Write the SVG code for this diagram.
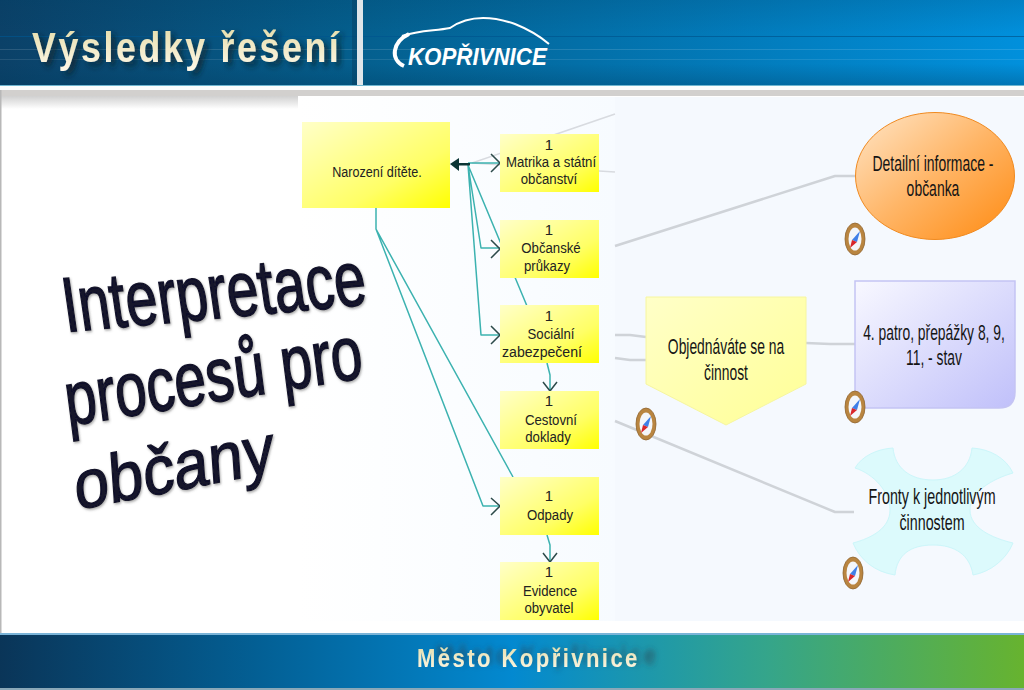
<svg xmlns="http://www.w3.org/2000/svg" width="1024" height="690" viewBox="0 0 1024 690">
<style>
text{font-family:"Liberation Sans",Arial,sans-serif}
.s{font-size:15px;fill:#222;text-anchor:middle}
.n{font-size:22px;fill:#151515;text-anchor:middle}
.box{fill:url(#yg)}
.tl{fill:none;stroke:#3cb2b0;stroke-width:1.5;stroke-linejoin:round}
.ar{fill:none;stroke:#2c4a4a;stroke-width:1.5}
.gr{fill:none;stroke:#cfd3d8;stroke-width:2.5;stroke-linejoin:round}
.gt{fill:none;stroke:#d8dbe0;stroke-width:1.6}
.head{font-weight:700;fill:url(#gold)}
.big{font-size:74px;fill:#12122a;stroke:#12122a;stroke-width:1.5}
</style>
<defs>
<linearGradient id="top" x1="0" x2="1" y1="0" y2="0"><stop offset="0" stop-color="#0b4168"/><stop offset=".35" stop-color="#045f8e"/><stop offset="1" stop-color="#0190dc"/></linearGradient>
<linearGradient id="vs" x1="0" x2="0" y1="0" y2="1"><stop offset="0" stop-color="#003a5c" stop-opacity=".18"/><stop offset=".4" stop-color="#003a5c" stop-opacity="0"/><stop offset=".75" stop-color="#003a5c" stop-opacity="0"/><stop offset="1" stop-color="#003a5c" stop-opacity=".3"/></linearGradient>
<linearGradient id="bot" x1="0" x2="1" y1="0" y2="0"><stop offset="0" stop-color="#0a3558"/><stop offset=".25" stop-color="#035f94"/><stop offset=".5" stop-color="#0389d0"/><stop offset=".75" stop-color="#35a58a"/><stop offset="1" stop-color="#67b32f"/></linearGradient>
<linearGradient id="yg" x1="0" x2="1" y1="0" y2="1"><stop offset="0" stop-color="#ffffc8"/><stop offset=".65" stop-color="#ffff66"/><stop offset="1" stop-color="#ffff00"/></linearGradient>
<linearGradient id="yp" x1="0" x2="1" y1="0" y2="1"><stop offset="0" stop-color="#ffffc8"/><stop offset="1" stop-color="#ffff96"/></linearGradient>
<linearGradient id="org" x1="0" x2="1" y1="0" y2="1"><stop offset="0" stop-color="#ffe6c8"/><stop offset=".5" stop-color="#ffb566"/><stop offset="1" stop-color="#ff8a10"/></linearGradient>
<linearGradient id="pur" x1="0" x2="1" y1="0" y2="1"><stop offset="0" stop-color="#f8f8ff"/><stop offset="1" stop-color="#c0c0fa"/></linearGradient>
<linearGradient id="gold" x1="0" x2="0" y1="0" y2="1"><stop offset="0" stop-color="#e4dca8"/><stop offset="1" stop-color="#fff8e8"/></linearGradient>
<linearGradient id="fade" x1="0" x2="1" y1="0" y2="0"><stop offset="0" stop-color="#fff"/><stop offset="1" stop-color="#f7fbff"/></linearGradient>
<linearGradient id="sh" x1="0" x2="0" y1="0" y2="1"><stop offset="0" stop-color="#d0d0d0"/><stop offset="1" stop-color="#fff"/></linearGradient>
<filter id="ds" x="-10%" y="-40%" width="125%" height="190%"><feDropShadow dx="5" dy="4" stdDeviation="3" flood-color="#15232c" flood-opacity=".75"/></filter>
<filter id="dsf" x="-5%" y="-40%" width="130%" height="180%"><feDropShadow dx="22" dy="-3" stdDeviation="3" flood-color="#2a3a4a" flood-opacity=".6"/></filter>
<filter id="ss" x="-5%" y="-10%" width="110%" height="125%"><feDropShadow dx="1" dy="1.500" stdDeviation=".8" flood-color="#555" flood-opacity=".5"/></filter>
<g id="compass"><ellipse rx="10" ry="16" fill="#b98540" stroke="#8f6430" stroke-width=".8"/><ellipse rx="6.500" ry="11.500" fill="#f4f6fa"/><path d="M5 -8L-3 1L2 3Z" fill="#3f7fe8"/><path d="M-5 9L-3 1L2 3Z" fill="#d9252a"/></g>
</defs>
<rect width="1024" height="690" fill="#fff"/>
<g id="header">
<rect width="1024" height="85" fill="url(#top)"/>
<rect width="1024" height="85" fill="url(#vs)"/>
<rect y="36" width="1024" height="1" fill="#00558f" opacity=".7"/>
<rect y="49" width="1024" height="1" fill="#fff" opacity=".13"/>
<rect y="59" width="1024" height="1" fill="#fff" opacity=".1"/>
<rect x="352" width="5" height="85" fill="#0a3552" opacity=".35"/>
<rect x="357" width="6" height="85" fill="#dfe6ea"/>
<rect y="85" width="1024" height="1" fill="#6fb6d0"/>
<rect y="86" width="1024" height="4" fill="#fbfdfd"/>
<rect y="90" width="1024" height="6" fill="#d2d0ce"/>
<rect y="96" width="298" height="13" fill="url(#sh)"/>
<text class="head" transform="translate(32,62) scale(.85,1)" font-size="42" letter-spacing="3.100" filter="url(#ds)">Výsledky řešení</text>
<path d="M402 36C420 30 435 31 450 28C470 14 495 17 515 24C530 30 542 38 549 44" fill="none" stroke="#fff" stroke-width="2"/>
<path d="M409 34C392 42 390 60 404 66" fill="none" stroke="#fff" stroke-width="4"/>
<text transform="translate(408,65) scale(.93,1)" font-style="italic" font-weight="700" font-size="24" fill="#fff">KOPŘIVNICE</text>
</g>
<g id="panel">
<rect x="298" y="97" width="317" height="524" fill="url(#fade)"/>
<rect x="615" y="97" width="409" height="524" fill="#f5f9fe"/>
<rect x="0" y="90" width="1.500" height="544" fill="#b8b8b8"/>
</g>
<g id="connectors">
<path class="gt" d="M472 163L615 114M472 163L615 172"/>
<path class="gr" d="M615 246L835 176H855M615 335L630 335L646 337M615 358L630 360H646M806 343L830 344H855M615 421L835 512H854"/>
<path class="tl" d="M376 208V229L513 477M376 229L483 506H500M468 163H500M468 165L527 306M468 165L481 248H500M468 165L481 335H500M547 363L550 375V391M547 535L550 545V562"/>
<path class="ar" d="M491 154L500 163L491 172M491 240L500 249L491 258M491 326L500 335L491 344M491 498L500 506L491 515M543 382L550 391L557 382M543 553L550 562L557 553"/>
<path d="M450 164L459 158V171Z" fill="#0b3535"/><rect x="458" y="163" width="12" height="2.500" fill="#0b3535"/>
</g>
<g id="n-narozeni"><rect class="box" x="302" y="122" width="148" height="86"/><text class="s" transform="translate(377,177) scale(.84,1)">Narození dítěte.</text></g>
<g id="n-matrika"><rect class="box" x="500" y="134" width="99" height="58"/><text class="s" x="549" y="150">1</text><text class="s" transform="translate(551,167) scale(.88,1)">Matrika a státní</text><text class="s" transform="translate(549,184) scale(.88,1)">občanství</text></g>
<g id="n-obcanske"><rect class="box" x="500" y="220" width="99" height="58"/><text class="s" x="549" y="235">1</text><text class="s" transform="translate(551,253) scale(.88,1)">Občanské</text><text class="s" transform="translate(547,271) scale(.88,1)">průkazy</text></g>
<g id="n-socialni"><rect class="box" x="500" y="305" width="99" height="58"/><text class="s" x="549" y="321">1</text><text class="s" transform="translate(551,339) scale(.88,1)">Sociální</text><text class="s" transform="translate(542,357) scale(.94,1)">zabezpečení</text></g>
<g id="n-cestovni"><rect class="box" x="500" y="391" width="99" height="58"/><text class="s" x="549" y="406">1</text><text class="s" transform="translate(551,425) scale(.88,1)">Cestovní</text><text class="s" transform="translate(548,442) scale(.88,1)">doklady</text></g>
<g id="n-odpady"><rect class="box" x="500" y="477" width="99" height="58"/><text class="s" x="549" y="501">1</text><text class="s" transform="translate(550,520) scale(.88,1)">Odpady</text></g>
<g id="n-evidence"><rect class="box" x="500" y="562" width="99" height="58"/><text class="s" x="549" y="577">1</text><text class="s" transform="translate(550,596) scale(.88,1)">Evidence</text><text class="s" transform="translate(549,613) scale(.88,1)">obyvatel</text></g>
<g id="n-objednavate"><path d="M646 297H806V384L726 425L646 384Z" fill="url(#yp)" stroke="#f6f6a0"/><text class="n" transform="translate(726,354) scale(.63,1)">Objednáváte se na</text><text class="n" transform="translate(726,380) scale(.63,1)">činnost</text></g>
<g id="n-detail"><ellipse cx="935" cy="176" rx="79.500" ry="63.500" fill="url(#org)" stroke="#f08a20"/><text class="n" transform="translate(933,171) scale(.635,1)">Detailní informace -</text><text class="n" transform="translate(933,196) scale(.635,1)">občanka</text></g>
<g id="n-patro"><path d="M855 281H1015V392Q1015 408 999 408H855Z" fill="url(#pur)" stroke="#c4c4f4" stroke-width="1.500"/><text class="n" transform="translate(934,340) scale(.63,1)">4. patro, přepážky 8, 9,</text><text class="n" transform="translate(934,365) scale(.63,1)">11,  - stav</text></g>
<g id="n-fronty"><path d="M855 468C862 456 877 449 893 448C895 468 910 480 933 480C955 480 970 468 972 448C990 449 1006 458 1013 473C992 479 970 492 970 510C970 528 992 538 1013 543C1006 560 990 572 973 575C970 555 955 545 933 545C910 545 897 555 895 575C875 572 860 560 853 543C872 538 890 528 890 510C890 492 874 474 855 468Z" fill="#dcfafc" stroke="#ccf6fa"/><text class="n" transform="translate(932,504) scale(.65,1)">Fronty k jednotlivým</text><text class="n" transform="translate(932,530) scale(.65,1)">činnostem</text></g>
<use href="#compass" x="855" y="239"/>
<use href="#compass" x="855" y="407"/>
<use href="#compass" x="646" y="424"/>
<use href="#compass" x="853" y="573"/>
<g id="interpretace" filter="url(#ss)">
<text class="big" transform="translate(66,332) rotate(-5.200) skewX(3) scale(.77,1.050)">Interpretace</text>
<text class="big" transform="translate(68,426) rotate(-9.300) skewX(-2) scale(.77,1.030)">procesů pro</text>
<text class="big" transform="translate(76,510) rotate(-11) skewX(-7) scale(.85,.92)">občany</text>
</g>
<g id="footer">
<rect y="633" width="1024" height="2" fill="#7ab4d8"/>
<rect y="635" width="1024" height="53" fill="url(#bot)"/>
<rect y="688" width="1024" height="2" fill="#8aa8b8"/>
<text class="head" transform="translate(417,667) scale(.85,1)" font-size="26" letter-spacing="2.850" filter="url(#dsf)">Město Kopřivnice</text>
</g>
</svg>
